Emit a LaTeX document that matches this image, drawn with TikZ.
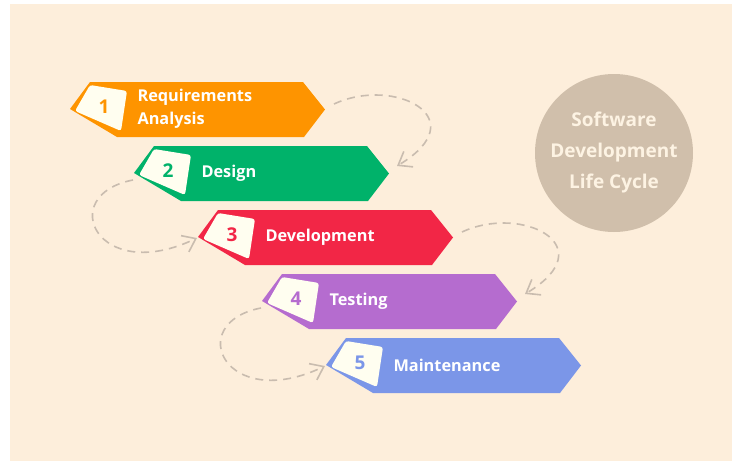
\documentclass[tikz,border=0pt]{standalone}
\usepackage{fontspec}
\setmainfont{Open Sans}
\usetikzlibrary{arrows.meta}
\definecolor{bg}{HTML}{FDEEDB}
\definecolor{sdlcfill}{HTML}{D0BFAB}
\definecolor{sdlctext}{HTML}{FDF3E3}
\definecolor{cream}{HTML}{FFFEF0}
\definecolor{flowgray}{HTML}{C9BCAF}
\definecolor{c1}{HTML}{FE9400}
\definecolor{c2}{HTML}{00B26A}
\definecolor{c3}{HTML}{F22646}
\definecolor{c4}{HTML}{B56CCF}
\definecolor{c5}{HTML}{7B96E8}

\begin{document}
\begin{tikzpicture}[x=1pt,y=-1pt,
    card/.style = {fill=cream, rounded corners=2.5pt},
    num/.style = {font=\fontsize{19}{22}\selectfont\bfseries},
    stagetext/.style = {anchor=west, text=white, align=left, font=\fontsize{16.3}{23}\selectfont\bfseries},
    flow/.style = {draw=flowgray, line width=1.6pt, dash pattern=on 8pt off 6pt, -{Straight Barb[length=12pt,width=18pt]}}]
        \useasboundingbox (0,0) rectangle (732,461);
        \fill[bg] (10,4) rectangle (732,461);
        % stages
        \foreach \i/\col/\txt in {1/c1/{Requirements\\Analysis}, 2/c2/Design, 3/c3/Development, 4/c4/Testing, 5/c5/Maintenance} {
            \begin{scope}[shift={({70+64*(\i-1)},{82+64*(\i-1)})}]
                \fill[\col] (0,27) -- (20,0) -- (233,0) -- (255,27.5) -- (234,55) -- (47,55) -- cycle;
                \fill[card] (20,3) -- (57,9) -- (51,49) -- (5,29) -- cycle;
                \node[num, text=\col] (n\i) at (34,25) {\i};
                \node[stagetext] (t\i) at (64,27) {\txt};
                \coordinate (l\i) at (0,27);
                \coordinate (r\i) at (255,27);
            \end{scope}
        }
        \node[circle, fill=sdlcfill, minimum size=158pt, inner sep=0pt, text=sdlctext, align=center, font=\fontsize{19}{31}\selectfont\bfseries] (sdlc) at (614,153) {Software\\Development\\Life Cycle};
        % dashed flow
        \draw[flow] ([shift={(9,-5)}]r1) .. controls +(60,-28) and +(80,-48) .. ([shift={(8,-7)}]r2);
        \draw[flow] ([shift={(-1,7)}]l2) .. controls +(-78,15) and +(-100,48) .. ([shift={(-1,1)}]l3);
        \draw[flow] ([shift={(9,-5)}]r3) .. controls +(60,-28) and +(80,-48) .. ([shift={(8,-7)}]r4);
        \draw[flow] ([shift={(-1,7)}]l4) .. controls +(-78,15) and +(-100,48) .. ([shift={(-1,1)}]l5);
\end{tikzpicture}
\end{document}
